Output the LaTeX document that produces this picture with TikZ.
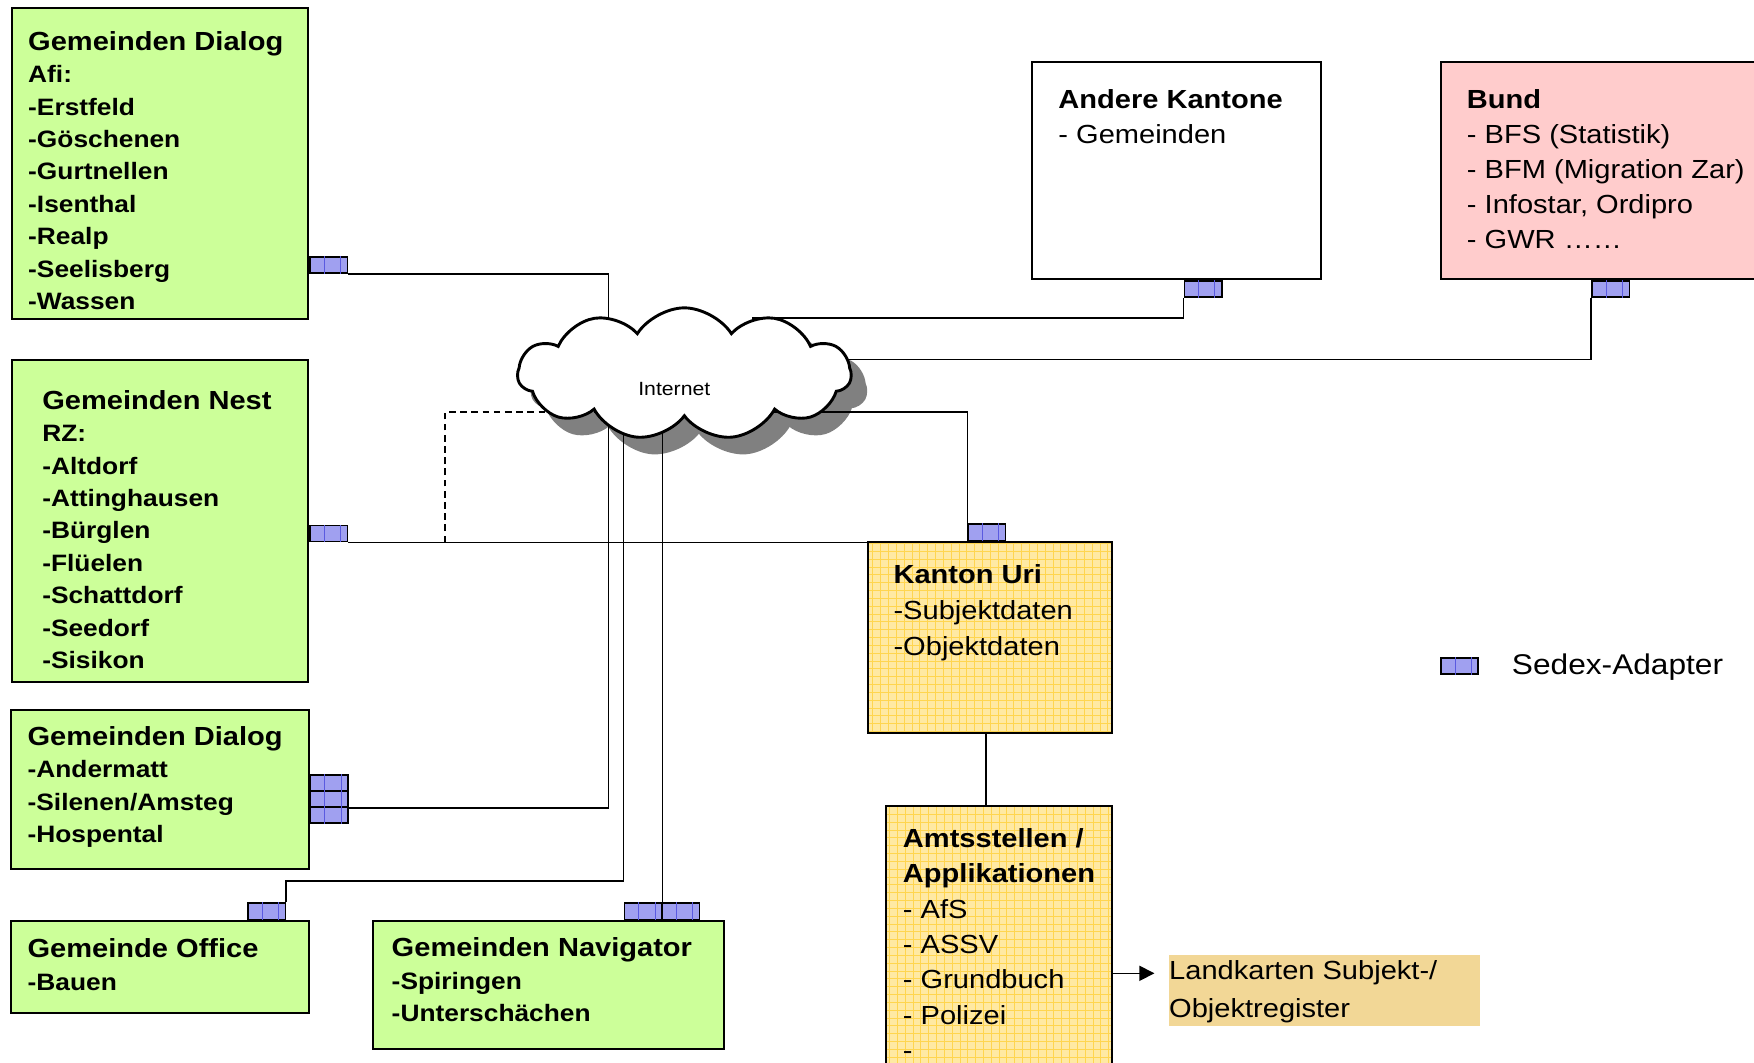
\documentclass[tikz,border=0pt]{standalone}
\usepackage{fontspec}
\setmainfont{Liberation Sans}[FakeStretch=1.11]
\usetikzlibrary{shapes.symbols,calc,arrows.meta}

\definecolor{dialoggreen}{HTML}{CCFF99}
\definecolor{bundpink}{HTML}{FFCCCC}
\definecolor{kantonyellow}{HTML}{FFE9A3}
\definecolor{gridyellow}{HTML}{FFD54F}
\definecolor{kartentan}{HTML}{F2D796}
\definecolor{sedexblue}{HTML}{A0A0F0}
\definecolor{sedexline}{HTML}{5A5AE0}
\definecolor{shadowgray}{HTML}{808080}

\pgfdeclarelayer{shade}
\pgfdeclarelayer{wires}
\pgfsetlayers{shade,wires,main}

\newcommand{\gtitle}[1]{{\fontsize{23.4}{29}\selectfont\bfseries #1}}

\tikzset{
block/.style = {draw, line width=1.8pt, anchor=north west, inner sep=0pt},
gemeinde/.style = {block, fill=dialoggreen},
kanton/.style = {block, fill=kantonyellow,
                 path picture={\draw[gridline] (path picture bounding box.south west)
                   grid[step=7pt] (path picture bounding box.north east);}},
gridline/.style = {gridyellow, line width=0.5pt},
txt/.style  = {anchor=north west, inner sep=0pt, align=left},
gtxt/.style = {txt, font=\fontsize{21.2}{29}\selectfont\bfseries},
rtxt/.style = {txt, font=\fontsize{23.4}{31.5}\selectfont},
sedexdiv/.style = {sedexline, line width=0.6pt},
adapter/.style = {draw, line width=1.4pt, fill=sedexblue, minimum width=33.5pt,
                  minimum height=14.4pt, inner sep=0pt,
                  append after command={\pgfextra{\let\LN\tikzlastnode}
                    ($(\LN.south west)!0.38!(\LN.south east)$) edge[sedexdiv]
                      ($(\LN.north west)!0.38!(\LN.north east)$)
                    ($(\LN.south west)!0.8!(\LN.south east)$) edge[sedexdiv]
                      ($(\LN.north west)!0.8!(\LN.north east)$)}},
netcloud/.style = {cloud, cloud puffs=11, cloud puff arc=115, aspect=2.5, draw,
                   line width=2.6pt, fill=white, minimum width=298pt,
                   minimum height=118pt, inner sep=0pt},
wire/.style = {draw, line width=1.4pt},
arrowline/.style = {wire, -{Triangle[length=13.4pt, width=13.4pt]}}
}

\begin{document}
\begin{tikzpicture}[x=1pt, y=-1pt, node distance=33.5pt]
    \useasboundingbox (0,0) rectangle (1568,950.2);

    % Gemeinden
    \node [gemeinde, minimum width=265.2pt, minimum height=278pt] (dialogA) at (9.5,6) {};
    \node [gtxt] (dialogAtxt) at ([shift={(15.5,21.7)}]dialogA.north west)
    {\gtitle{Gemeinden Dialog}\\Afi:\\-Erstfeld\\-Göschenen\\-Gurtnellen\\-Isenthal\\-Realp\\-Seelisberg\\-Wassen};
    \node [adapter, anchor=south west] (adDialogA) at ([yshift=41pt]dialogA.south east) {};

    \node [gemeinde, minimum width=264.4pt, minimum height=287.5pt] (nest) at (10.2,321) {};
    \node [gtxt] (nesttxt) at ([shift={(27.4,27.6)}]nest.north west)
    {\gtitle{Gemeinden Nest}\\RZ:\\-Altdorf\\-Attinghausen\\-Bürglen\\-Flüelen\\-Schattdorf\\-Seedorf\\-Sisikon};
    \node [adapter, anchor=south west] (adNest) at ([yshift=125.5pt]nest.south east) {};

    \node [gemeinde, minimum width=265.7pt, minimum height=142pt] (dialogB) at (9.3,634) {};
    \node [gtxt] (dialogBtxt) at ([shift={(15.2,15)}]dialogB.north west)
    {\gtitle{Gemeinden Dialog}\\-Andermatt\\-Silenen/Amsteg\\-Hospental};
    \node [adapter, anchor=north west] (adDialogB1) at ([yshift=-58pt]dialogB.north east) {};
    \node [adapter, below of=adDialogB1, node distance=14.3pt] (adDialogB2) {};
    \node [adapter, below of=adDialogB2, node distance=14.3pt] (adDialogB3) {};

    \node [gemeinde, minimum width=265.7pt, minimum height=81.9pt] (office) at (9.3,822.5) {};
    \node [gtxt] (officetxt) at ([shift={(15.2,16.7)}]office.north west)
    {\gtitle{Gemeinde Office}\\-Bauen};
    \node [adapter, anchor=south east] (adOffice) at ([xshift=-21pt]office.north east) {};

    \node [gemeinde, minimum width=314.1pt, minimum height=114.5pt] (navi) at (332.3,822.5) {};
    \node [gtxt] (navitxt) at ([shift={(17.7,15.7)}]navi.north west)
    {\gtitle{Gemeinden Navigator}\\-Spiringen\\-Unterschächen};
    \node [adapter, anchor=south west] (adNavi1) at ([xshift=225.2pt]navi.north west) {};
    \node [adapter, right of=adNavi1] (adNavi2) {};

    % Kantone und Bund
    \node [block, fill=white, minimum width=258pt, minimum height=194.6pt] (kantone) at (922,54.2) {};
    \node [rtxt, font=\fontsize{23.4}{31.3}\selectfont] (kantonetxt) at ([shift={(24,25.2)}]kantone.north west)
    {\textbf{Andere Kantone}\\- Gemeinden};
    \node [adapter, anchor=north west] (adKantone) at ([xshift=136pt]kantone.south west) {};

    \node [block, fill=bundpink, minimum width=330pt, minimum height=194.6pt] (bund) at (1287.3,54.2) {};
    \node [rtxt, font=\fontsize{23.4}{31.4}\selectfont] (bundtxt) at ([shift={(23.9,25.2)}]bund.north west)
    {\textbf{Bund}\\- BFS (Statistik)\\- BFM (Migration Zar)\\- Infostar, Ordipro\\- GWR ……};
    \node [adapter, anchor=north west] (adBund) at ([xshift=135pt]bund.south west) {};

    % Kanton Uri
    \node [kanton, minimum width=217.8pt, minimum height=170.3pt] (uri) at (775.4,483.7) {};
    \node [rtxt, font=\fontsize{23.4}{32.3}\selectfont] (uritxt) at ([shift={(23.2,20.4)}]uri.north west)
    {\textbf{Kanton Uri}\\-Subjektdaten\\-Objektdaten};
    \node [adapter, anchor=south west] (adUri) at ([xshift=89.4pt]uri.north west) {};

    \node [kanton, minimum width=202.2pt, minimum height=280pt] (amt) at (791,720) {};
    \node [rtxt, font=\fontsize{23.4}{31.6}\selectfont] (amttxt) at ([shift={(16,20.4)}]amt.north west)
    {\textbf{Amtsstellen /}\\\textbf{Applikationen}\\- AfS\\- ASSV\\- Grundbuch\\- Polizei\\-};

    \node [block, draw=none, fill=kartentan, minimum width=277.7pt, minimum height=63.4pt] (karten) at (1044.5,852.9) {};
    \node [rtxt, font=\fontsize{23.4}{33.4}\selectfont] (kartentxt) at ([shift={(0.5,6)}]karten.north west)
    {Landkarten Subjekt-/\\Objektregister};

    % Legende
    \node [adapter, anchor=north west] (adLegend) at (1287.3,587.6) {};
    \node [anchor=base west, inner sep=0pt, font=\fontsize{25.5}{30}\selectfont] (legendtxt)
    at ([xshift=29.2pt]adLegend.south east) {Sedex-Adapter};

    % Internet
    \node [netcloud] (inet) at (611.8,334.2) {};
    \node [anchor=base, inner sep=0pt, font=\fontsize{17.1}{20}\selectfont] (inettxt)
    at ([shift={(-9,19)}]inet.center) {Internet};
    \begin{pgfonlayer}{shade}
    \node [netcloud, draw=shadowgray, fill=shadowgray] (inetshadow) at ([shift={(13,14)}]inet.center) {};
    \end{pgfonlayer}

    \begin{pgfonlayer}{wires}
    \draw [wire] (adDialogA.south east) -| ([xshift=-68pt]inet.center);
    \draw [wire] (adKantone.south west) |- ([shift={(60,-50)}]inet.center);
    \draw [wire] (adBund.south west) |- ([shift={(80,-13)}]inet.center);
    \draw [wire] (adUri.north west) |- ([shift={(60,34.3)}]inet.center);
    \draw [wire] (adNest.south east) -- (adNest.south east -| adUri.south west);
    \coordinate (nesttap) at ([xshift=86.4pt]adNest.south east);
    \draw [wire, dash pattern=on 6pt off 4pt] (nesttap) |- ([shift={(-80,34.3)}]inet.center);
    \draw [wire] (adDialogB2.south east) -| ([xshift=-68pt]inet.center);
    \draw [wire] (adOffice.north east) -- ++(0,-19) -| ([xshift=-54.3pt]inet.center);
    \draw [wire] (adNavi1.north east) -- (adNavi1.north east |- inet.center);
    \coordinate (uridrop) at ([xshift=-4pt]uri.south);
    \draw [wire] (uridrop) -- (uridrop |- amt.north);
    \coordinate (kartenarrow) at ([shift={(-12.5,-15.4)}]karten.west);
    \draw [arrowline] (amt.east |- kartenarrow) -- (kartenarrow);
    \end{pgfonlayer}

\end{tikzpicture}
\end{document}
